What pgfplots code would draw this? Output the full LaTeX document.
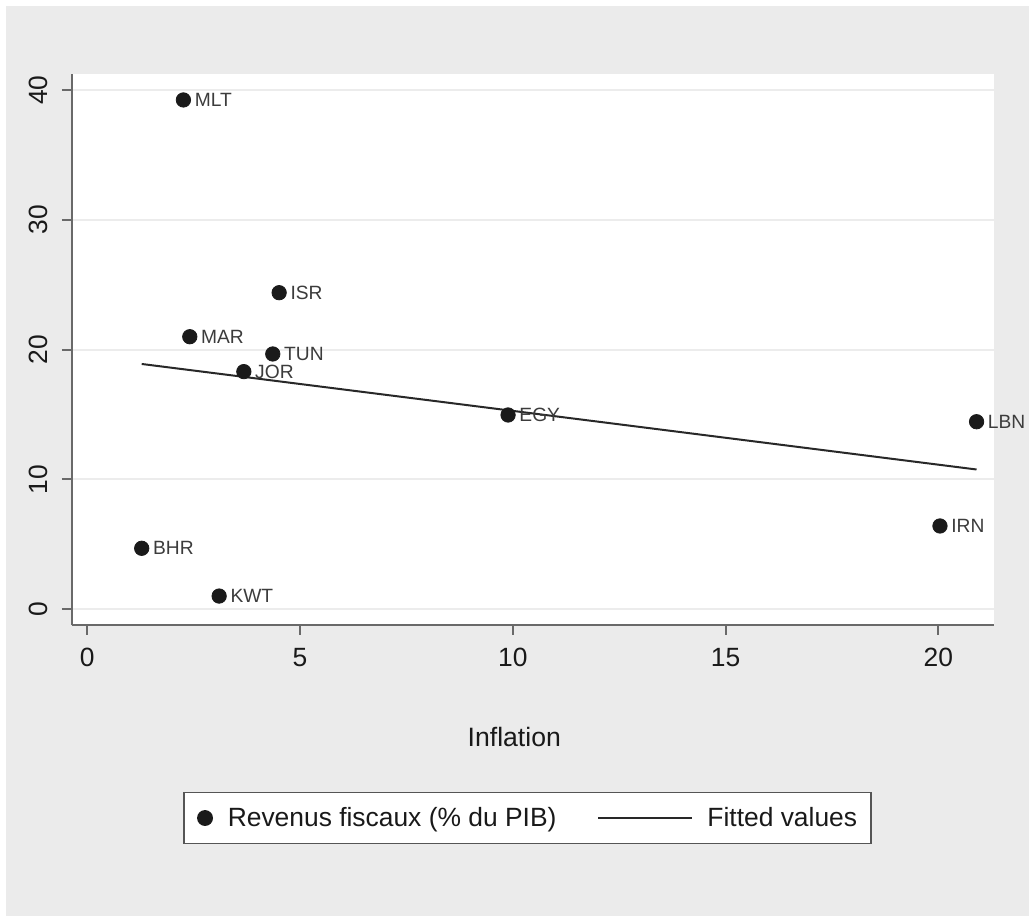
\documentclass[border=0pt]{standalone}
\usepackage{pgfplots}
\pgfplotsset{compat=1.18}
\usepackage{fontspec}
\setmainfont{Liberation Sans}
\definecolor{bggray}{RGB}{235,235,235}
\definecolor{axisc}{RGB}{105,105,105}
\definecolor{gridc}{RGB}{236,236,236}
\definecolor{textc}{RGB}{25,25,25}
\definecolor{labc}{RGB}{60,60,60}
\definecolor{markc}{RGB}{26,26,26}
\definecolor{linec}{RGB}{40,40,40}
\definecolor{legc}{RGB}{85,85,85}
\pgfplotstableread{
x y lab
2.26 39.24 MLT
1.28 4.70 BHR
3.10 1.02 KWT
4.51 24.39 ISR
2.41 21.00 MAR
4.36 19.67 TUN
3.68 18.31 JOR
20.90 14.45 LBN
20.04 6.42 IRN
9.89 14.97 EGY
}\scatterdata
\pgfplotstableread{
x y
1.28 18.90
20.90 10.77
}\fitdata
\begin{document}
\begin{tikzpicture}
\useasboundingbox (-35.75pt,-145.5pt) rectangle (478.75pt,312.5pt);
\fill[white] (-35.75pt,-145.5pt) rectangle (478.75pt,312.5pt);
\fill[bggray] (-32.75pt,-145.5pt) rectangle (478.75pt,309.5pt);
\begin{axis}[
  at={(0pt,0pt)}, anchor=south west,
  scale only axis, width=461.25pt, height=275.5pt,
  xmin=-0.37, xmax=21.31, ymin=-1.21, ymax=41.24,
  axis background/.style={fill=white},
  axis lines*=left,
  axis line style={-, draw=axisc, line width=1pt},
  xtick={0,5,10,15,20}, ytick={0,10,20,30,40},
  tick align=outside, major tick length=4.75pt,
  tick style={draw=axisc, line width=1pt},
  ymajorgrids, grid style={draw=gridc, line width=1pt},
  ticklabel style={font=\fontsize{13.2}{15}\selectfont, text=textc},
  /pgf/number format/assume math mode=true,
  xticklabel style={anchor=base, yshift=-15.9pt},
  yticklabel style={rotate=90, anchor=center, yshift=12pt},
  xlabel={Inflation},
  xlabel style={at={(axis description cs:0.48,0)}, anchor=center, yshift=-56pt, font=\fontsize{13.3}{15}\selectfont, text=textc},
  clip=false,
  legend columns=2,
  legend style={at={(0.4943,-0.3503)}, anchor=center, draw=legc, line width=0.75pt, fill=white,
    inner xsep=7pt, inner ysep=7.3pt, font=\fontsize{13.2}{15}\selectfont, text=textc,
    nodes={inner sep=0pt},
    /tikz/every even column/.append style={column sep=20.5pt}},
]
\addplot[only marks, mark=*, mark size=3.6pt, mark options={draw=markc, fill=markc},
  nodes near coords, point meta=explicit symbolic,
  nodes near coords style={anchor=west, xshift=5.5pt, inner sep=0pt, text=labc, font=\fontsize{9.6}{11}\selectfont},
  legend image code/.code={\path (-1.5pt,0pt) (11pt,0pt); \draw[mark=*, mark size=3.6pt, mark options={draw=markc, fill=markc}] plot coordinates {(0pt,0pt)};}
] table[x=x, y=y, meta=lab] {\scatterdata};
\addlegendentry{Revenus fiscaux (\% du PIB)}
\addplot[draw=linec, line width=1pt, no marks,
  legend image code/.code={\draw[draw=linec, line width=1pt] (0pt,0pt) -- (47pt,0pt); \path (0pt,0pt) (54pt,0pt);}
] table[x=x, y=y] {\fitdata};
\addlegendentry{Fitted values}
\end{axis}
\end{tikzpicture}
\end{document}
